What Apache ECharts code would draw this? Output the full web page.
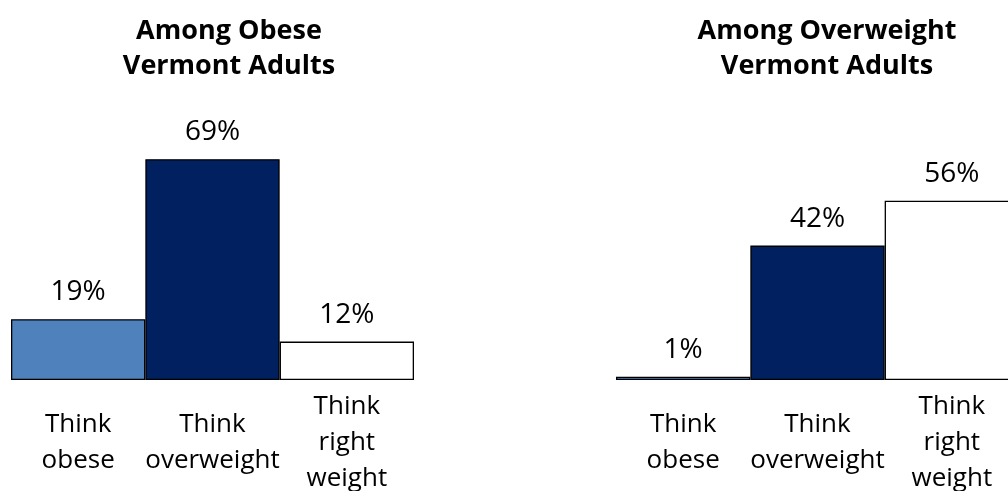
<!DOCTYPE html>
<html>
<head>
<meta charset="utf-8">
<script src="https://cdn.jsdelivr.net/npm/echarts@6/dist/echarts.min.js"></script>
<style>
html,body{margin:0;padding:0;background:#fff;}
#chart{width:1008px;height:491px;}
</style>
</head>
<body>
<div id="chart"></div>
<script>
// ---- data ----
const categories = ['Think\nobese', 'Think\noverweight', 'Think\nright\nweight'];
const obeseValues = [19, 69, 12];
const overweightValues = [1, 42, 56];
const panelTitles = ['Among Obese\nVermont Adults', 'Among Overweight\nVermont Adults'];
const barColors = ['#4f81bd', '#002060', '#ffffff'];

const FONT = '"Open Sans", "Liberation Sans", sans-serif';

function makeData(vals) {
  return vals.map((v, i) => ({
    value: v,
    itemStyle: { color: barColors[i], borderColor: '#000', borderWidth: 1.3 }
  }));
}

const chart = echarts.init(document.getElementById('chart'), null, { renderer: 'canvas' });

const xAxisCommon = {
  type: 'category',
  data: categories,
  axisLine: { show: false },
  axisTick: { show: false },
  axisLabel: {
    interval: 0,
    color: '#000',
    fontFamily: FONT,
    fontSize: 26,
    lineHeight: 36,
    verticalAlign: 'middle',
    margin: 63
  }
};
const yAxisCommon = {
  type: 'value', min: 0, max: 100,
  show: false, splitLine: { show: false }
};
const seriesCommon = {
  type: 'bar',
  barCategoryGap: '0%',
  animation: false,
  label: {
    show: true, position: 'top', distance: 12,
    formatter: '{c}%', color: '#000',
    fontFamily: FONT, fontSize: 28, lineHeight: 30
  }
};

chart.setOption({
  backgroundColor: '#fff',
  animation: false,
  title: [
    { text: panelTitles[0], left: 229, top: 14, textAlign: 'center', padding: 0,
      textStyle: { fontFamily: FONT, fontWeight: 'bold', fontSize: 27, lineHeight: 35, color: '#000' } },
    { text: panelTitles[1], left: 827, top: 14, textAlign: 'center', padding: 0,
      textStyle: { fontFamily: FONT, fontWeight: 'bold', fontSize: 27, lineHeight: 35, color: '#000' } }
  ],
  grid: [
    { left: 11, top: 60, width: 403, height: 320, containLabel: false, outerBoundsMode: 'none' },
    { left: 616, top: 60, width: 403, height: 320, containLabel: false, outerBoundsMode: 'none' }
  ],
  xAxis: [
    Object.assign({ gridIndex: 0 }, xAxisCommon),
    Object.assign({ gridIndex: 1 }, xAxisCommon)
  ],
  yAxis: [
    Object.assign({ gridIndex: 0 }, yAxisCommon),
    Object.assign({ gridIndex: 1 }, yAxisCommon)
  ],
  series: [
    Object.assign({ name: 'Obese', xAxisIndex: 0, yAxisIndex: 0, data: makeData(obeseValues) }, seriesCommon),
    Object.assign({ name: 'Overweight', xAxisIndex: 1, yAxisIndex: 1, data: makeData(overweightValues) }, seriesCommon)
  ]
});
</script>
</body>
</html>
